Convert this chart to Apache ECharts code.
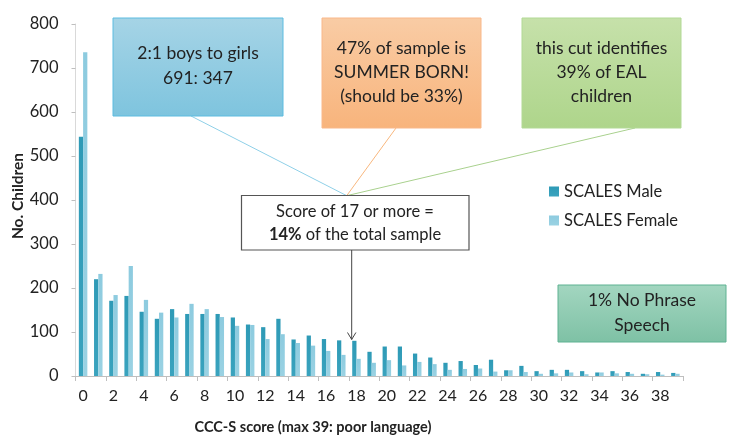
<!DOCTYPE html>
<html><head><meta charset="utf-8">
<script src="https://cdn.jsdelivr.net/npm/echarts@6/dist/echarts.min.js"></script>
<style>html,body{margin:0;padding:0;background:#fff}#c{width:733px;height:439px}</style>
</head><body><div id="c"></div>
<script>
const categories = Array.from({length:40},(_, i)=>String(i));
const maleValues = [544,220,171,182,146,130,152,141,141,141,133,117,111,130,83,92,84,81,80,55,67,67,51,42,30,34,25,37,13,23,11,14,14,11,8,11,9,5,9,7];
const femaleValues = [736,232,184,250,173,144,133,164,152,134,114,116,84,95,75,69,57,48,39,30,36,24,32,27,14,16,17,10,13,9,5,6,8,4,8,6,5,4,3,5];
const seriesNames = ['SCALES Male','SCALES Female'];
const yTicks = [0,100,200,300,400,500,600,700,800];

const F = 'Lato, "Open Sans", sans-serif';
const chart = echarts.init(document.getElementById('c'));
function boxGrad(a,b){return new echarts.graphic.LinearGradient(0,0,0,1,[{offset:0,color:a},{offset:1,color:b}]);}
function t(x,y,s,font,extra){return {type:'text',x:x,y:y,style:Object.assign({text:s,font:font,fill:'#222',align:'center',verticalAlign:'middle'},extra||{})};}
chart.setOption({
  animation:false,
  grid:{left:75.5,right:50,top:24,bottom:63},
  legend:{orient:'vertical',left:544,top:178,itemWidth:10,itemHeight:10,itemGap:12,icon:'rect',
    textStyle:{fontFamily:F,fontSize:16.5,color:'#222'},data:seriesNames},
  xAxis:{type:'category',data:categories,
    axisLine:{lineStyle:{color:'#BFBFBF'}},
    axisTick:{show:true,length:5,lineStyle:{color:'#BFBFBF'}},
    axisLabel:{interval:1,fontFamily:F,fontSize:16,color:'#222',margin:12}},
  yAxis:{type:'value',min:yTicks[0],max:yTicks[yTicks.length-1],interval:100,
    splitLine:{show:false},
    axisLine:{show:true,lineStyle:{color:'#D9D9D9'}},
    axisTick:{show:true,length:4,lineStyle:{color:'#BFBFBF'}},
    axisLabel:{fontFamily:F,fontSize:16.5,color:'#222',margin:17}},
  series:[
    {name:seriesNames[0],type:'bar',data:maleValues,barGap:'0%',barCategoryGap:'44%',
      itemStyle:{color:boxGrad('#2E9AB6','#3AA3BE')}},
    {name:seriesNames[1],type:'bar',data:femaleValues,
      itemStyle:{color:boxGrad('#8DCBDF','#9AD2E3')}}
  ],
  graphic:[
    {type:'text',x:18,y:196,rotation:Math.PI/2,style:{text:'No. Children',font:'bold 15.5px '+F,fill:'#222',align:'center',verticalAlign:'middle'}},
    t(313,427,'CCC-S score (max 39: poor language)','bold 14.5px '+F),
    {type:'line',shape:{x1:191,y1:116,x2:346.7,y2:195.7},style:{stroke:'#8FD0E8',lineWidth:1}},
    {type:'line',shape:{x1:396,y1:128,x2:346.7,y2:195.7},style:{stroke:'#F8B77E',lineWidth:1}},
    {type:'line',shape:{x1:635,y1:128,x2:346.7,y2:195.7},style:{stroke:'#A9D18E',lineWidth:1}},
    {type:'rect',shape:{x:113,y:18,width:170,height:98},style:{fill:boxGrad('#A6D4E6','#7EC4DE'),stroke:'#5DBCE0',lineWidth:1}},
    t(198,53,'2:1 boys to girls','17.5px '+F),
    t(198,78,'691: 347','17.5px '+F),
    {type:'rect',shape:{x:322,y:18,width:159,height:110},style:{fill:boxGrad('#F9CCA5','#F8B47C'),stroke:'#F9B88A',lineWidth:1}},
    t(401.5,72,'47% of sample is\nSUMMER BORN!\n(should be 33%)','17.5px '+F,{lineHeight:24}),
    {type:'rect',shape:{x:522,y:18,width:159,height:110},style:{fill:boxGrad('#C6E1AA','#AED58B'),stroke:'#B2D995',lineWidth:1}},
    t(601.5,72,'this cut identifies\n39% of EAL\nchildren','17.5px '+F,{lineHeight:24}),
    {type:'rect',shape:{x:558,y:285,width:168,height:57},style:{fill:boxGrad('#A3D6C0','#7EC1A5'),stroke:'#5FB292',lineWidth:1}},
    t(642,313,'1% No Phrase\nSpeech','17.5px '+F,{lineHeight:25}),
    {type:'rect',shape:{x:241.5,y:195.5,width:227.5,height:54.5},style:{fill:'#fff',stroke:'#555',lineWidth:1.2}},
    t(355,212,'Score of 17 or more =','16.5px '+F),
    t(355,235,'{b|14%} of the total sample','16.5px '+F,{rich:{b:{font:'bold 16.5px '+F,fill:'#222'}}}),
    {type:'line',shape:{x1:351.7,y1:250,x2:351.7,y2:339.5},style:{stroke:'#444',lineWidth:1}},
    {type:'polyline',shape:{points:[[347.5,332.5],[351.7,339.5],[355.9,332.5]]},style:{stroke:'#444',lineWidth:1,fill:null}}
  ]
});
</script></body></html>
